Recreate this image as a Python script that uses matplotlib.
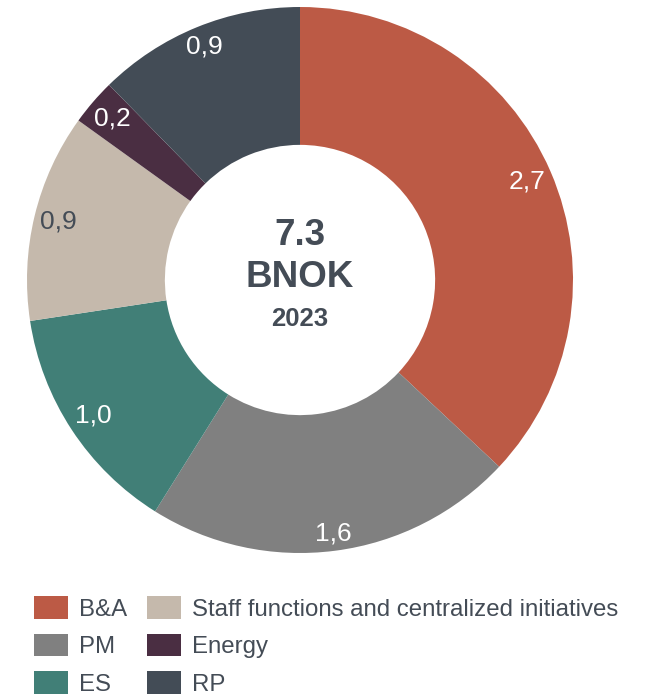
import numpy as np
import matplotlib.pyplot as plt
from matplotlib.patches import Patch

plt.rcParams['font.family'] = ['Liberation Sans', 'DejaVu Sans']

# data
segments = ['B&A', 'PM', 'ES', 'Staff functions and centralized initiatives', 'Energy', 'RP']
values = [2.7, 1.6, 1.0, 0.9, 0.2, 0.9]
value_labels = ['2,7', '1,6', '1,0', '0,9', '0,2', '0,9']
colors = ['#BC5A45', '#808080', '#417F77', '#C5B9AC', '#4A2E42', '#434C56']
label_colors = ['white', 'white', 'white', '#444C56', 'white', 'white']
total_text = '7.3'
unit_text = 'BNOK'
year_text = '2023'

txt = '#444C56'
R_px = 273.0

fig = plt.figure(figsize=(6.48, 6.97), dpi=100)
ax = fig.add_axes([27/648, (697-280-273)/697, 546/648, 546/697])

wedges, _ = ax.pie(values, colors=colors, startangle=90, counterclock=False,
                   radius=1.0, wedgeprops=dict(width=0.505, edgecolor='none'))
ax.set_xlim(-1, 1)
ax.set_ylim(-1, 1)
ax.set_aspect('equal')
ax.axis('off')

# value labels "inside end": box pushed against the outer rim
half_w = 18 / R_px
half_h = 10 / R_px
r_edge = 268 / R_px
for w, lab, c in zip(wedges, value_labels, label_colors):
    mid = np.deg2rad((w.theta1 + w.theta2) / 2)
    r = r_edge - (abs(np.cos(mid))*half_w + abs(np.sin(mid))*half_h)
    ax.text(r*np.cos(mid), r*np.sin(mid), lab, ha='center', va='center',
            fontsize=19, color=c)

ax.text(0, 0.162, total_text, ha='center', va='center', fontsize=26.5,
        fontweight='bold', color=txt)
ax.text(0, 0.010, unit_text, ha='center', va='center', fontsize=26.5,
        fontweight='bold', color=txt)
ax.text(0, -0.142, year_text, ha='center', va='center', fontsize=18.5,
        fontweight='bold', color=txt)

handles = [Patch(facecolor=c, edgecolor='none') for c in colors]
leg = fig.legend(handles, segments, ncol=2, loc='upper left',
                 bbox_to_anchor=(34/648, 1-596/697), frameon=False,
                 fontsize=17.3, handlelength=1.42, handleheight=1.08,
                 handletextpad=0.45, columnspacing=0.83, labelspacing=0.54,
                 borderaxespad=0, borderpad=0)
for t in leg.get_texts():
    t.set_color(txt)

fig.savefig('out.png', dpi=100)
